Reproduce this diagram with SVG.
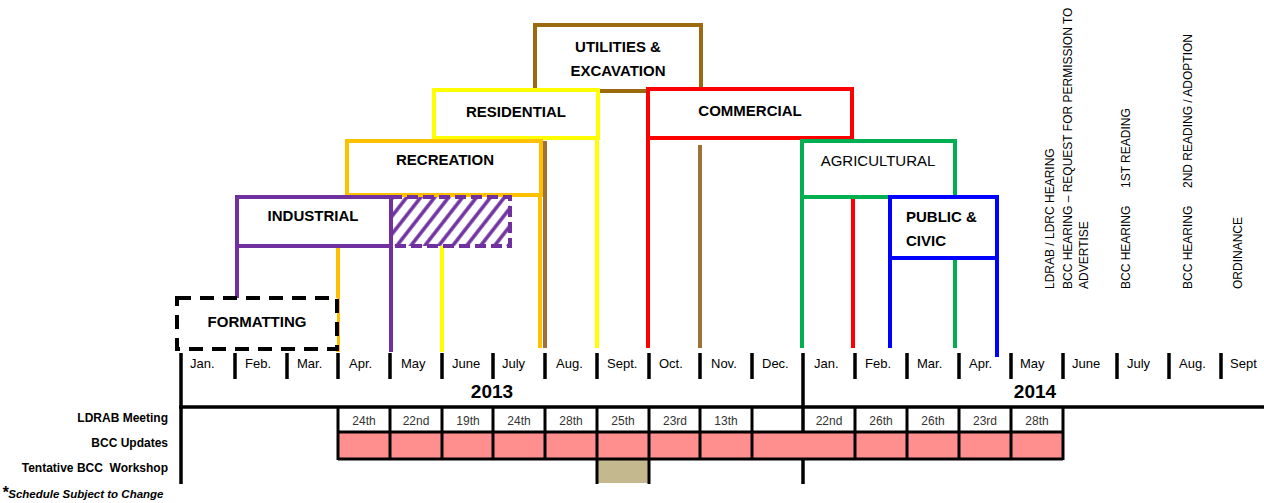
<svg xmlns="http://www.w3.org/2000/svg" width="1264" height="503" viewBox="0 0 1264 503">
<defs>
<style>
text{font-family:"Liberation Sans",Arial,sans-serif;fill:#000}
.bl{font-size:15px;font-weight:bold;text-anchor:middle}
.box{fill:#fff;stroke-width:4}
.ln{stroke-width:4;fill:none}
.tk{stroke:#000;stroke-width:3.5}
.mo{font-size:13px}
.yr{font-size:19px;font-weight:bold;text-anchor:middle}
.cell{stroke:#000;stroke-width:3}
.ct{font-size:12px;text-anchor:middle;fill:#333}
.rl{font-size:12px;font-weight:bold;text-anchor:end}
.vt{font-size:12px}
</style>
<pattern id="hatch" width="11" height="11" patternUnits="userSpaceOnUse" patternTransform="rotate(38)">
<rect width="11" height="11" fill="#fff"/>
<line x1="2" y1="0" x2="2" y2="11" stroke="#7030A0" stroke-width="3.5"/>
</pattern>
</defs>
<rect width="1264" height="503" fill="#fff"/>

<g id="connectors">
<line class="ln" stroke="#7030A0" x1="237" y1="246" x2="237" y2="298"/>
<line class="ln" stroke="#FFC000" x1="338" y1="246" x2="338" y2="352"/>
<line class="ln" stroke="#7030A0" x1="391" y1="246" x2="391" y2="352"/>
<line class="ln" stroke="#FFFF00" x1="442" y1="246" x2="442" y2="352"/>
<line class="ln" stroke="#FFC000" x1="540" y1="195" x2="540" y2="348"/>
<line class="ln" stroke="#A0703A" x1="545" y1="141" x2="545" y2="348"/>
<line class="ln" stroke="#FFFF00" x1="597" y1="138" x2="597" y2="348"/>
<line class="ln" stroke="#FF0000" x1="648" y1="138" x2="648" y2="348"/>
<line class="ln" stroke="#A0703A" x1="700" y1="145" x2="700" y2="348"/>
<line class="ln" stroke="#00B050" x1="802" y1="197" x2="802" y2="348"/>
<line class="ln" stroke="#FF0000" x1="853" y1="197" x2="853" y2="348"/>
<line class="ln" stroke="#0000FF" x1="890" y1="258" x2="890" y2="348"/>
<line class="ln" stroke="#00B050" x1="955" y1="258" x2="955" y2="348"/>
<line class="ln" stroke="#0000FF" x1="997" y1="258" x2="997" y2="357"/>
</g>

<g id="utilities">
<rect class="box" stroke="#9C6A0E" x="535" y="25" width="166" height="66"/>
<text class="bl" x="618" y="52">UTILITIES &amp;</text>
<text class="bl" x="618" y="76">EXCAVATION</text>
</g>
<g id="residential">
<rect class="box" stroke="#FFFF00" x="434" y="90" width="164" height="48"/>
<text class="bl" x="516" y="117">RESIDENTIAL</text>
</g>
<g id="commercial">
<rect class="box" stroke="#FF0000" x="648" y="89" width="204" height="49"/>
<text class="bl" x="750" y="116">COMMERCIAL</text>
</g>
<g id="recreation">
<rect class="box" stroke="#FFC000" x="347" y="141" width="194" height="54"/>
<text class="bl" x="445" y="165">RECREATION</text>
</g>
<g id="agricultural">
<rect class="box" stroke="#00B050" x="802" y="141" width="153" height="56"/>
<text class="bl" x="878" y="166" style="font-weight:normal">AGRICULTURAL</text>
</g>
<g id="industrial">
<rect x="391" y="197" width="119" height="49" fill="url(#hatch)" stroke="#7030A0" stroke-width="4" stroke-dasharray="11 5"/>
<rect class="box" stroke="#7030A0" x="237" y="197" width="154" height="49"/>
<text class="bl" x="313" y="221">INDUSTRIAL</text>
</g>
<g id="public-civic">
<rect class="box" stroke="#0000FF" x="890" y="197" width="107" height="61"/>
<text class="bl" x="906" y="222" style="text-anchor:start">PUBLIC &amp;</text>
<text class="bl" x="906" y="246" style="text-anchor:start">CIVIC</text>
</g>
<g id="formatting">
<rect x="177" y="298" width="160" height="51" fill="#fff" stroke="#000" stroke-width="4" stroke-dasharray="14 9"/>
<text class="bl" x="257" y="327">FORMATTING</text>
</g>

<g id="timeline">
<line class="tk" x1="181" y1="353" x2="181" y2="484"/>
<line class="tk" x1="803" y1="353" x2="803" y2="484"/>
<line class="tk" x1="179" y1="407" x2="1264" y2="407"/>
<g>
<line class="tk" x1="235" y1="353" x2="235" y2="379"/>
<line class="tk" x1="287" y1="353" x2="287" y2="379"/>
<line class="tk" x1="338" y1="353" x2="338" y2="379"/>
<line class="tk" x1="390" y1="353" x2="390" y2="379"/>
<line class="tk" x1="442" y1="353" x2="442" y2="379"/>
<line class="tk" x1="493" y1="353" x2="493" y2="379"/>
<line class="tk" x1="545" y1="353" x2="545" y2="379"/>
<line class="tk" x1="597" y1="353" x2="597" y2="379"/>
<line class="tk" x1="649" y1="353" x2="649" y2="379"/>
<line class="tk" x1="700" y1="353" x2="700" y2="379"/>
<line class="tk" x1="752" y1="353" x2="752" y2="379"/>
<line class="tk" x1="855" y1="353" x2="855" y2="379"/>
<line class="tk" x1="907" y1="353" x2="907" y2="379"/>
<line class="tk" x1="959" y1="353" x2="959" y2="379"/>
<line class="tk" x1="1011" y1="353" x2="1011" y2="379"/>
<line class="tk" x1="1063" y1="353" x2="1063" y2="379"/>
<line class="tk" x1="1117" y1="353" x2="1117" y2="379"/>
<line class="tk" x1="1169" y1="353" x2="1169" y2="379"/>
<line class="tk" x1="1221" y1="353" x2="1221" y2="379"/>
</g>
<g>
<text class="mo" x="190" y="368">Jan.</text>
<text class="mo" x="245" y="368">Feb.</text>
<text class="mo" x="297" y="368">Mar.</text>
<text class="mo" x="349" y="368">Apr.</text>
<text class="mo" x="401" y="368">May</text>
<text class="mo" x="452" y="368">June</text>
<text class="mo" x="502" y="368">July</text>
<text class="mo" x="556" y="368">Aug.</text>
<text class="mo" x="607" y="368">Sept.</text>
<text class="mo" x="659" y="368">Oct.</text>
<text class="mo" x="711" y="368">Nov.</text>
<text class="mo" x="762" y="368">Dec.</text>
<text class="mo" x="814" y="368">Jan.</text>
<text class="mo" x="865" y="368">Feb.</text>
<text class="mo" x="917" y="368">Mar.</text>
<text class="mo" x="969" y="368">Apr.</text>
<text class="mo" x="1020" y="368">May</text>
<text class="mo" x="1072" y="368">June</text>
<text class="mo" x="1127" y="368">July</text>
<text class="mo" x="1179" y="368">Aug.</text>
<text class="mo" x="1230" y="368">Sept</text>
</g>
<text class="yr" x="492" y="398">2013</text>
<text class="yr" x="1035" y="398">2014</text>
</g>

<g id="table">
<rect x="338" y="432" width="725" height="27" fill="#FF8F8F"/>
<rect x="597" y="459" width="52" height="24" fill="#C4B98E"/>
<line class="cell" x1="338" y1="432" x2="1063" y2="432"/>
<line class="cell" x1="338" y1="459" x2="1063" y2="459"/>
<g>
<line class="cell" x1="338" y1="407" x2="338" y2="460"/>
<line class="cell" x1="390" y1="407" x2="390" y2="460"/>
<line class="cell" x1="442" y1="407" x2="442" y2="460"/>
<line class="cell" x1="493" y1="407" x2="493" y2="460"/>
<line class="cell" x1="545" y1="407" x2="545" y2="460"/>
<line class="cell" x1="597" y1="407" x2="597" y2="484"/>
<line class="cell" x1="649" y1="407" x2="649" y2="484"/>
<line class="cell" x1="700" y1="407" x2="700" y2="460"/>
<line class="cell" x1="752" y1="407" x2="752" y2="460"/>
<line class="cell" x1="855" y1="407" x2="855" y2="460"/>
<line class="cell" x1="907" y1="407" x2="907" y2="460"/>
<line class="cell" x1="959" y1="407" x2="959" y2="460"/>
<line class="cell" x1="1011" y1="407" x2="1011" y2="460"/>
<line class="cell" x1="1063" y1="407" x2="1063" y2="460"/>
</g>
<text class="ct" x="364" y="425">24th</text>
<text class="ct" x="416" y="425">22nd</text>
<text class="ct" x="468" y="425">19th</text>
<text class="ct" x="519" y="425">24th</text>
<text class="ct" x="571" y="425">28th</text>
<text class="ct" x="623" y="425">25th</text>
<text class="ct" x="675" y="425">23rd</text>
<text class="ct" x="726" y="425">13th</text>
<text class="ct" x="829" y="425">22nd</text>
<text class="ct" x="881" y="425">26th</text>
<text class="ct" x="933" y="425">26th</text>
<text class="ct" x="985" y="425">23rd</text>
<text class="ct" x="1037" y="425">28th</text>
<text class="rl" x="168" y="422">LDRAB Meeting</text>
<text class="rl" x="168" y="447">BCC Updates</text>
<text class="rl" x="168" y="472" xml:space="preserve">Tentative BCC  Workshop</text>
<text x="2" y="498" style="font-size:11.5px;font-weight:bold;font-style:italic"><tspan style="font-size:16px">*</tspan>Schedule Subject to Change</text>
</g>

<g id="milestones">
<text class="vt" transform="translate(1054,289) rotate(-90)">LDRAB / LDRC HEARING</text>
<text class="vt" transform="translate(1072,289) rotate(-90)">BCC HEARING – REQUEST FOR PERMISSION TO</text>
<text class="vt" transform="translate(1088,289) rotate(-90)">ADVERTISE</text>
<text class="vt" transform="translate(1130,289) rotate(-90)">BCC HEARING</text>
<text class="vt" transform="translate(1130,188) rotate(-90)">1ST READING</text>
<text class="vt" transform="translate(1192,289) rotate(-90)">BCC HEARING</text>
<text class="vt" transform="translate(1192,188) rotate(-90)">2ND READING / ADOPTION</text>
<text class="vt" transform="translate(1242,289) rotate(-90)">ORDINANCE</text>
</g>
</svg>
